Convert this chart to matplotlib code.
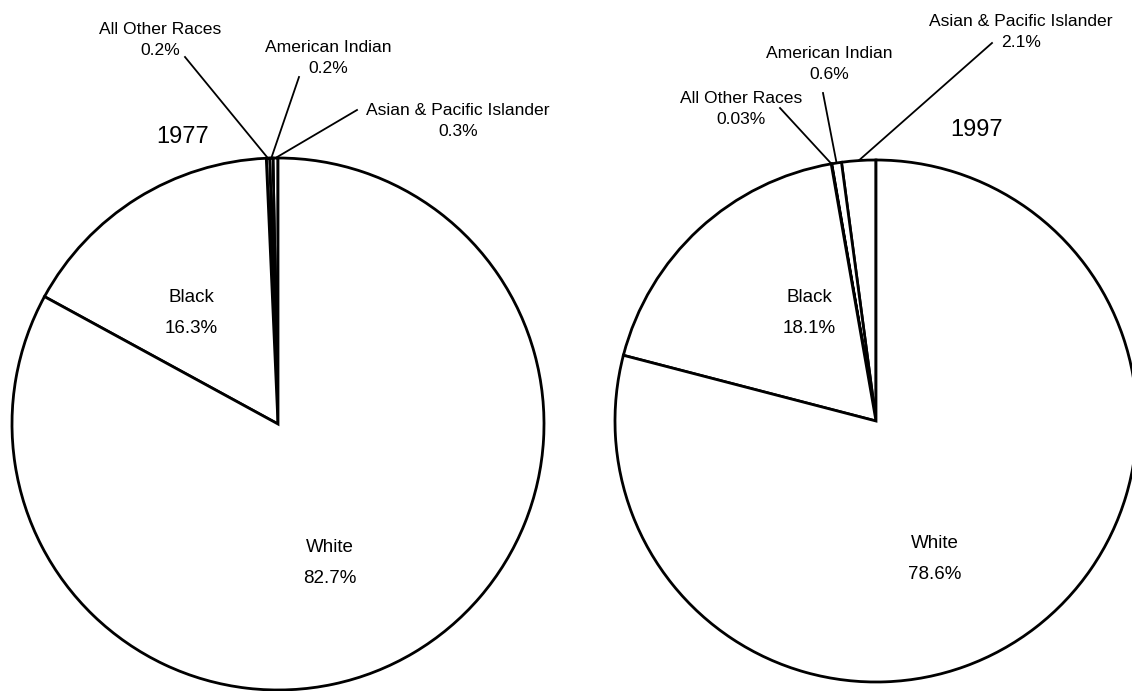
import numpy as np
import matplotlib
matplotlib.use("Agg")
import matplotlib.pyplot as plt

# slices go counterclockwise from 12 o'clock
races = ["Asian & Pacific Islander", "American Indian", "All Other Races", "Black", "White"]
pct_1977 = [0.3, 0.2, 0.2, 16.3, 82.7]
pct_1997 = [2.1, 0.6, 0.03, 18.1, 78.6]
labels_1977 = ["0.3%", "0.2%", "0.2%", "16.3%", "82.7%"]
labels_1997 = ["2.1%", "0.6%", "0.03%", "18.1%", "78.6%"]

plt.rcParams['font.family'] = ['Liberation Sans', 'DejaVu Sans']

H = 691
fig = plt.figure(figsize=(11.32, 6.91), dpi=100)
ax = fig.add_axes([0, 0, 1, 1])


def pie(values, center, r, big_pos, small_pos, line_start, labels, year, year_pos):
    cy = H - center[1]
    wedges, _ = ax.pie(values, startangle=90, counterclock=True,
                       center=(center[0], cy), radius=r,
                       wedgeprops=dict(facecolor='white', edgecolor='black', linewidth=2))
    # small slices: labels above, with leader lines to the rim
    for i in range(3):
        w = wedges[i]
        a = np.deg2rad((w.theta1 + w.theta2) / 2)
        ex, ey = center[0] + r * np.cos(a), cy + r * np.sin(a)
        sx, sy = line_start[i]
        ax.plot([sx, ex], [H - sy, ey], color='black', lw=1.3)
        tx, ty = small_pos[i]
        ax.text(tx, H - ty, races[i] + "\n" + labels[i], ha='center', va='center',
                fontsize=12.6, linespacing=1.5)
    for i in (3, 4):
        tx, ty = big_pos[i - 3]
        ax.text(tx, H - ty, races[i] + "\n" + labels[i], ha='center', va='center',
                fontsize=13.5, linespacing=2.1)
    ax.text(year_pos[0], H - year_pos[1], year, ha='center', va='center', fontsize=17)


pie(pct_1977, (278, 424), 266,
    big_pos=[(191, 313), (330, 563)],
    small_pos=[(458, 121), (328, 58), (160, 40)],
    line_start=[(357, 110), (299, 77), (185, 57)],
    labels=labels_1977, year="1977", year_pos=(183, 137))

pie(pct_1997, (876, 421), 261,
    big_pos=[(809, 313), (935, 559)],
    small_pos=[(1021, 32), (829, 64), (741, 109)],
    line_start=[(992, 43), (823, 93), (780, 108)],
    labels=labels_1997, year="1997", year_pos=(977, 130))

ax.set_xlim(0, 1132)
ax.set_ylim(0, H)
ax.set_aspect('equal')
ax.axis('off')

fig.savefig("out.png", dpi=100, facecolor='white')
